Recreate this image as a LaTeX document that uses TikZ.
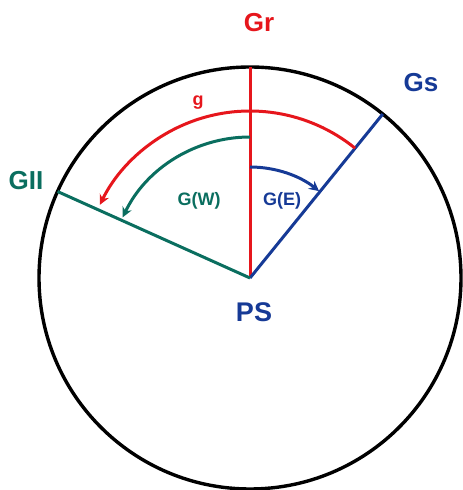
\documentclass[tikz,border=0pt]{standalone}
\usepackage{fontspec}
\setmainfont{Liberation Sans}
\usetikzlibrary{arrows.meta}
\definecolor{cred}{RGB}{230,22,28}
\definecolor{cblue}{RGB}{22,58,150}
\definecolor{cteal}{RGB}{10,110,95}
\tikzset{
  ln/.style={line width=3pt},
  arr/.style={ln,-{Stealth[length=10pt,width=10pt]}},
  big/.style={font=\fontsize{26}{28}\selectfont\bfseries,inner sep=0pt},
  small/.style={font=\fontsize{18}{20}\selectfont\bfseries,inner sep=0pt}
}
\begin{document}
\begin{tikzpicture}[x=1pt,y=1pt]
\useasboundingbox (0,0) rectangle (463,490);
\coordinate (PS) at (250,212);
\draw[line width=3.4pt] (PS) circle[radius=211pt];
\path (PS) ++(90:211pt) coordinate (rtop);
\path (PS) ++(51:211pt) coordinate (stop);
\path (PS) ++(155.8:211pt) coordinate (wtop);
\draw[ln,cred] (PS) -- (rtop);
\draw[ln,cblue] (PS) -- (stop);
\draw[ln,cteal] (PS) -- (wtop);
% arcs
\draw[arr,cred] ([shift={(51:167pt)}]PS) arc[start angle=51,end angle=154,radius=167pt];
\draw[arr,cteal] ([shift={(90:141pt)}]PS) arc[start angle=90,end angle=154.5,radius=141pt];
\draw[arr,cblue] ([shift={(90:111pt)}]PS) arc[start angle=90,end angle=51.5,radius=111pt];
% labels
\node[big,text=cred] (Gr) at (259,467) {Gr};
\node[big,text=cblue] (Gs) at (421,407) {Gs};
\node[big,text=cteal] (GII) at (26,309) {GII};
\node[big,text=cblue,font=\fontsize{27}{29}\selectfont\bfseries] (PSl) at (254,178) {PS};
\node[small,text=cred] (g) at (198,387) {g};
\node[small,text=cteal] (GW) at (199,289) {G(W)};
\node[small,text=cblue] (GE) at (282,289) {G(E)};
\end{tikzpicture}
\end{document}
